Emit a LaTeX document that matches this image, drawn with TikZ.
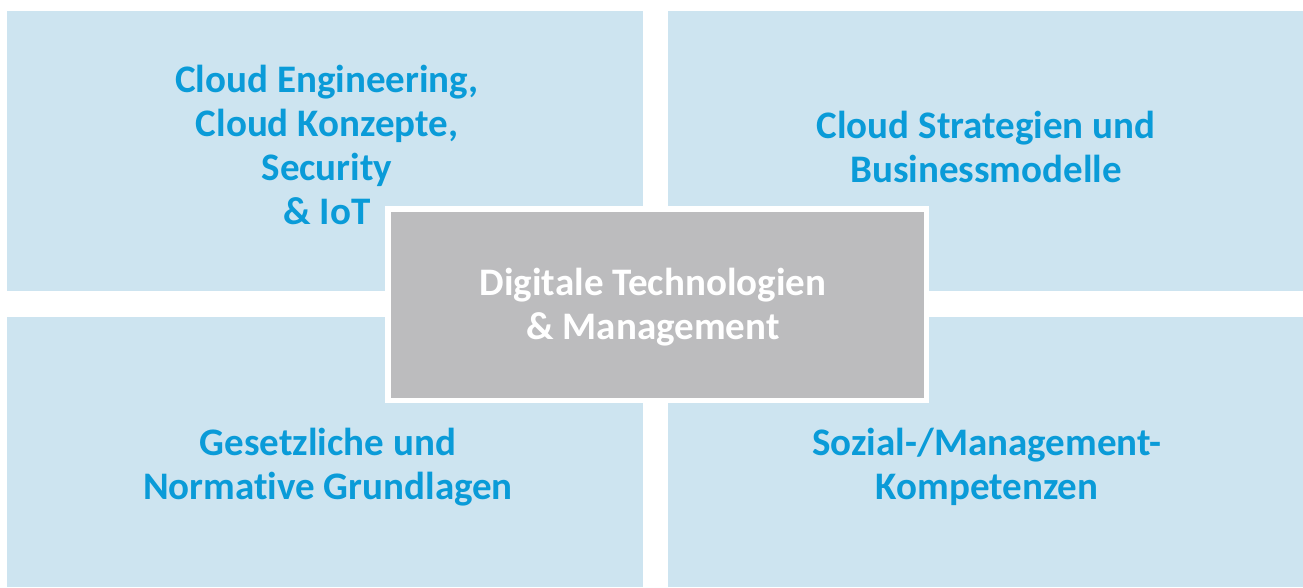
\documentclass[tikz,border=0pt]{standalone}
\usepackage{fontspec}
\setmainfont[RawFeature=-liga]{Carlito}
\definecolor{boxblue}{HTML}{CDE4F0}
\definecolor{textblue}{HTML}{0A9BD8}
\definecolor{centergrey}{HTML}{BCBCBE}
\begin{document}
\begin{tikzpicture}[x=1pt,y=-1pt,
  quad/.style={fill=boxblue, draw=none},
  quadtext/.style={text=textblue, align=center, font=\bfseries\fontsize{39}{44}\selectfont, inner sep=0pt},
  centerbox/.style={fill=centergrey, draw=white, line width=5.5pt},
  centertext/.style={text=white, align=center, font=\bfseries\fontsize{39}{44}\selectfont, inner sep=0pt}]
\useasboundingbox[fill=white] (0,0) rectangle (1303,587);
\fill[quad] (7,11) rectangle (643,291);
\fill[quad] (668,11) rectangle (1303,291);
\fill[quad] (7,317) rectangle (643,587);
\fill[quad] (668,317) rectangle (1303,587);
\node[quadtext] (tl) at (327,145) {Cloud Engineering,\\Cloud Konzepte,\\Security\\\& IoT};
\node[quadtext] (tr) at (986,147) {Cloud Strategien und\\Businessmodelle};
\node[quadtext] (bl) at (328,467) {Gesetzliche und\\Normative Grundlagen};
\node[quadtext] (br) at (987,467) {Sozial-/Management-\\Kompetenzen};
\draw[centerbox] (387.75,208.75) rectangle (926.25,400.25);
\node[centertext] (center) at (653,307) {Digitale Technologien\\\& Management};
\end{tikzpicture}
\end{document}
